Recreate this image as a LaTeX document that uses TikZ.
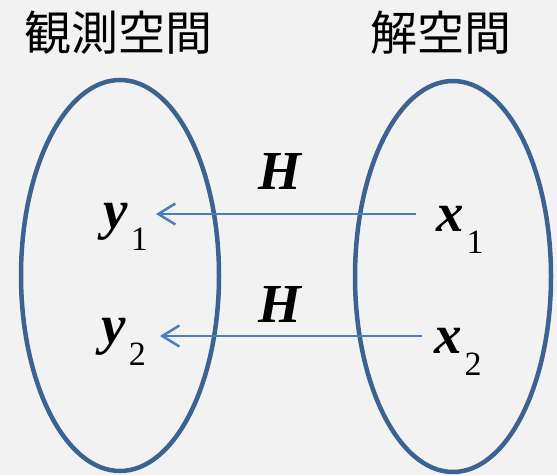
\documentclass[tikz,border=0pt]{standalone}
\usepackage{fontspec}
\setmainfont{Liberation Serif}
\newfontfamily\jpfont{Noto Sans CJK JP}
\usetikzlibrary{arrows.meta,shapes.geometric}
\definecolor{setblue}{HTML}{3B6291}
\definecolor{mapblue}{HTML}{4A7EBB}
\definecolor{slide}{HTML}{F2F2F2}
\newcommand{\vecsub}[2]{\textbf{\textit{#1}}\kern3pt\raisebox{-22pt}{\fontsize{34}{34}\selectfont #2}}

\begin{document}
\begin{tikzpicture}[x=1pt,y=-1pt,
  space/.style={draw=setblue,line width=4.5pt,ellipse,inner sep=0pt},
  title/.style={font=\jpfont\fontsize{47}{50}\selectfont,inner sep=0pt},
  vec/.style={font=\fontsize{55}{60}\selectfont,inner sep=0pt,anchor=base west},
  maparrow/.style={draw=mapblue,line width=2.5pt,-{Straight Barb[length=17pt,width=21pt]}}]
\fill[slide] (0,0) rectangle (557,475);
\useasboundingbox (0,0) rectangle (557,475);

% the two spaces
\node[space,minimum width=198pt,minimum height=391pt] (obs) at (120,275.5) {};
\node[space,minimum width=196pt,minimum height=391pt] (sol) at (453,276.5) {};
\node[title] (obstitle) at (118.5,32.5) {観測空間};
\node[title] (soltitle) at (441,33) {解空間};

% elements
\node[vec] (y1) at (103,228) {\vecsub{y}{1}};
\node[vec] (y2) at (101,343) {\vecsub{y}{2}};
\node[vec] (x1) at (436,231) {\vecsub{x}{1}};
\node[vec] (x2) at (434,353) {\vecsub{x}{2}};
\node[vec,anchor=center] (h1) at (281,171) {\textbf{\textit{H}}};
\node[vec,anchor=center] (h2) at (281,304) {\textbf{\textit{H}}};

\draw[maparrow] ([xshift=-20pt,yshift=17pt]x1.base west) -- ([xshift=8pt,yshift=14pt]y1.base east);
\draw[maparrow] ([xshift=-12pt,yshift=17pt]x2.base west) -- ([xshift=14pt,yshift=7pt]y2.base east);
\end{tikzpicture}
\end{document}
